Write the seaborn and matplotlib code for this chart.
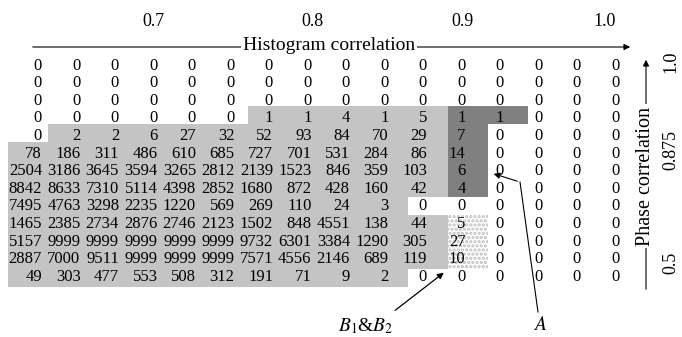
import numpy as np
import matplotlib
matplotlib.use("Agg")
import matplotlib.pyplot as plt
import seaborn as sns
from matplotlib import colors
from matplotlib.patches import Rectangle

# counts in the grid, top row = highest phase correlation
counts = [
    [0, 0, 0, 0, 0, 0, 0, 0, 0, 0, 0, 0, 0, 0, 0, 0],
    [0, 0, 0, 0, 0, 0, 0, 0, 0, 0, 0, 0, 0, 0, 0, 0],
    [0, 0, 0, 0, 0, 0, 0, 0, 0, 0, 0, 0, 0, 0, 0, 0],
    [0, 0, 0, 0, 0, 0, 1, 1, 4, 1, 5, 1, 1, 0, 0, 0],
    [0, 2, 2, 6, 27, 32, 52, 93, 84, 70, 29, 7, 0, 0, 0, 0],
    [78, 186, 311, 486, 610, 685, 727, 701, 531, 284, 86, 14, 0, 0, 0, 0],
    [2504, 3186, 3645, 3594, 3265, 2812, 2139, 1523, 846, 359, 103, 6, 0, 0, 0, 0],
    [8842, 8633, 7310, 5114, 4398, 2852, 1680, 872, 428, 160, 42, 4, 0, 0, 0, 0],
    [7495, 4763, 3298, 2235, 1220, 569, 269, 110, 24, 3, 0, 0, 0, 0, 0, 0],
    [1465, 2385, 2734, 2876, 2746, 2123, 1502, 848, 4551, 138, 44, 5, 0, 0, 0, 0],
    [5157, 9999, 9999, 9999, 9999, 9999, 9732, 6301, 3384, 1290, 305, 27, 0, 0, 0, 0],
    [2887, 7000, 9511, 9999, 9999, 9999, 7571, 4556, 2146, 689, 119, 10, 0, 0, 0, 0],
    [49, 303, 477, 553, 508, 312, 191, 71, 9, 2, 0, 0, 0, 0, 0, 0],
]

# region of each cell: 0 none, 1 light, 2 dark (A), 3 dotted (B1&B2)
regions = [
    [0, 0, 0, 0, 0, 0, 0, 0, 0, 0, 0, 0, 0, 0, 0, 0],
    [0, 0, 0, 0, 0, 0, 0, 0, 0, 0, 0, 0, 0, 0, 0, 0],
    [0, 0, 0, 0, 0, 0, 0, 0, 0, 0, 0, 0, 0, 0, 0, 0],
    [0, 0, 0, 0, 0, 0, 1, 1, 1, 1, 1, 2, 2, 0, 0, 0],
    [0, 1, 1, 1, 1, 1, 1, 1, 1, 1, 1, 2, 0, 0, 0, 0],
    [1, 1, 1, 1, 1, 1, 1, 1, 1, 1, 1, 2, 0, 0, 0, 0],
    [1, 1, 1, 1, 1, 1, 1, 1, 1, 1, 1, 2, 0, 0, 0, 0],
    [1, 1, 1, 1, 1, 1, 1, 1, 1, 1, 1, 2, 0, 0, 0, 0],
    [1, 1, 1, 1, 1, 1, 1, 1, 1, 1, 0, 0, 0, 0, 0, 0],
    [1, 1, 1, 1, 1, 1, 1, 1, 1, 1, 1, 3, 0, 0, 0, 0],
    [1, 1, 1, 1, 1, 1, 1, 1, 1, 1, 1, 3, 0, 0, 0, 0],
    [1, 1, 1, 1, 1, 1, 1, 1, 1, 1, 1, 3, 0, 0, 0, 0],
    [1, 1, 1, 1, 1, 1, 1, 1, 1, 1, 0, 0, 0, 0, 0, 0],
]

hist_ticks = ['0.7', '0.8', '0.9', '1.0']
hist_tick_px = [153, 312, 462, 605]
phase_ticks = ['1.0', '0.875', '0.5']
phase_tick_px = [62, 150, 263]

W, H = 682, 337
plt.rcParams['font.family'] = ['Liberation Serif', 'DejaVu Serif']
plt.rcParams['mathtext.fontset'] = 'stix'
plt.rcParams['hatch.linewidth'] = 1.6

fig = plt.figure(figsize=(W / 100, H / 100), dpi=100)

# shaded grid area in pixels (shading cells are a bit wider than the number columns)
left, cell_w = 8, 40
top, bottom = 52, 287
nrows, ncols = len(counts), len(counts[0])
ax = fig.add_axes([left / W, 1 - bottom / H, ncols * cell_w / W, (bottom - top) / H])

cmap = colors.ListedColormap(['white', '#c4c4c4', '#808080', 'white'])
sns.heatmap(np.array(regions), cmap=cmap, vmin=-0.5, vmax=3.5, cbar=False,
            xticklabels=False, yticklabels=False, linewidths=0, ax=ax)
ax.set_xticks([])
ax.set_yticks([])
for s in ax.spines.values():
    s.set_visible(False)

for i in range(nrows):
    for j in range(ncols):
        if regions[i][j] == 3:
            ax.add_patch(Rectangle((j, i), 1, 1, facecolor='white',
                                   edgecolor='#bdbdbd', hatch='....', lw=0))

# overlay in pixel coordinates for numbers, axis arrows and labels
ov = fig.add_axes([0, 0, 1, 1])
ov.set_xlim(0, W)
ov.set_ylim(H, 0)
ov.axis('off')
ov.patch.set_alpha(0)

num_x0, num_dx = 42, 38.5
num_y0, num_dy = 64.5, 17.6
for i in range(nrows):
    for j in range(ncols):
        ov.text(num_x0 + j * num_dx, num_y0 + i * num_dy + 1, str(counts[i][j]),
                ha='right', va='center', fontsize=12, color='black')

for lab, px in zip(hist_ticks, hist_tick_px):
    ov.text(px, 22, lab, ha='center', va='center', fontsize=13)
ov.annotate('', xy=(633, 47), xytext=(30, 47),
            arrowprops=dict(arrowstyle='-|>', lw=0.8, color='black', mutation_scale=9))
ov.text(329, 45, 'Histogram correlation', ha='center', va='center', fontsize=14,
        bbox=dict(facecolor='white', edgecolor='none', pad=1.5))

ov.annotate('', xy=(646, 57), xytext=(646, 292),
            arrowprops=dict(arrowstyle='-|>', lw=0.8, color='black', mutation_scale=9))
ov.text(645, 176, 'Phase correlation', ha='center', va='center', fontsize=14.5,
        rotation=90, bbox=dict(facecolor='white', edgecolor='none', pad=1.5))
for lab, py in zip(phase_ticks, phase_tick_px):
    ov.text(671, py, lab, ha='center', va='center', fontsize=13, rotation=90)

# annotation A
ov.plot([538, 520], [312, 182], color='black', lw=0.8)
ov.annotate('', xy=(491, 173), xytext=(520, 182),
            arrowprops=dict(arrowstyle='-|>', lw=0.8, color='black', mutation_scale=9))
ov.text(540, 325, r'$A$', ha='center', va='center', fontsize=14)

# annotation B1&B2
ov.annotate('', xy=(446, 271), xytext=(393, 312),
            arrowprops=dict(arrowstyle='-|>', lw=0.9, color='black', mutation_scale=9))
ov.text(366, 326, r'$B_1$&$B_2$', ha='center', va='center', fontsize=14)

fig.savefig('out.png', dpi=100)
